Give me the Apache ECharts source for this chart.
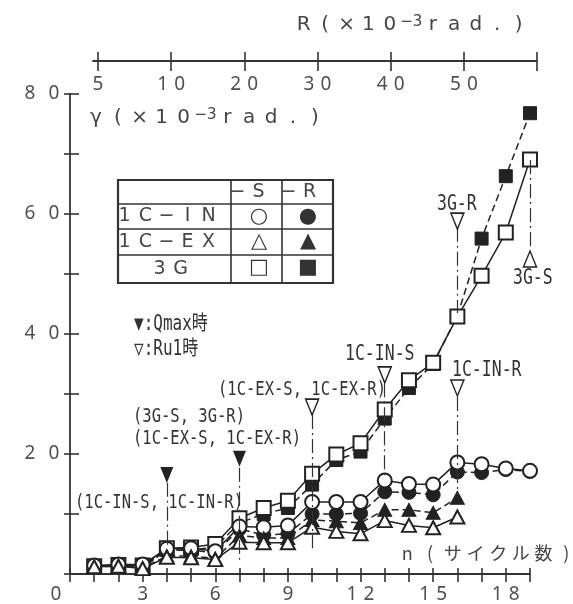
<!DOCTYPE html>
<html><head><meta charset="utf-8">
<script src="https://cdn.jsdelivr.net/npm/echarts@6/dist/echarts.min.js"></script>
<style>html,body{margin:0;padding:0;background:#fff}#c{width:573px;height:604px}</style>
</head><body><div id="c"></div>
<script>
// ---------------- data ----------------
const cycles = [1,2,3,4,5,6,7,8,9,10,11,12,13,14,15,16,17,18,19];
const in_S = [1.4,1.6,1.6,4.2,4.3,3.8,7.9,7.8,8.1,12.0,12.0,12.0,15.6,15.0,14.9,18.6,18.3,17.6,17.2];
const in_R = [1.3,1.5,1.0,4.0,4.0,3.5,7.5,6.5,6.7,10.0,10.0,10.1,13.7,13.6,13.2,17.0,16.9,17.4,17.1];
const ex_S = [1.2,1.3,0.9,2.8,2.7,2.4,5.3,5.2,5.2,7.8,7.1,6.7,8.9,8.1,7.7,9.5];
const ex_R = [1.2,1.3,1.0,3.0,3.0,2.6,6.4,6.0,6.0,9.0,8.8,8.5,10.7,10.7,10.2,12.7];
const g3_S = [1.3,1.5,1.4,4.3,4.4,5.0,9.3,11.0,12.2,16.7,19.9,21.8,27.4,32.3,35.2,42.9,49.7,56.9,69.1];
const g3_R = [1.2,1.4,1.3,4.0,4.0,4.5,8.5,10.0,11.0,14.9,19.0,20.4,25.9,31.0,35.0,43.0,55.9,66.3,76.8];
const bottomTickLabels = [0,3,6,9,12,15,18];
const yTickLabels = [20,40,60,80];
const topTickCycles = [1,4,7,10,13,16,19];
const topTickLabels = ['5','10','20','30','40','50',''];
// annotation markers: cycle, marker value, vertical line from / to (gamma units)
const qmaxMarks = [
  {n:4, v:16.5, from:15.2, to:4.8},
  {n:7, v:19.2, from:17.7, to:2.3}
];
const ru1Marks = [
  {n:10, v:27.8, from:26.5, to:4.3},
  {n:13, v:33.2, from:31.8, to:16.0},
  {n:16, v:31.0, from:29.5, to:13.2},
  {n:16, v:58.8, from:57.7, to:43.5}
];
const ru1UpMarks = [
  {n:19, v:52.5, from:69.0, to:54.0}
];

// ---------------- helpers ----------------
const INK = '#222', AX = '#333', TXT = '#454545';
function cells(chars, style){ return chars.map(c => '{' + style + '|' + c + '}').join(''); }
function digits(v, style){ return cells(String(v).split(''), style); }
function pairs(arr){ return arr.map((v,i) => [cycles[i], v]); }

const chart = echarts.init(document.getElementById('c'), null, {renderer:'canvas'});

const tickFont = {fontFamily:'Noto Sans', fontSize:19, color:'#505050'};

function mkSeries(name, vals, symbol, size, filled, dashed){
  return {
    name, type:'line', data: pairs(vals), xAxisIndex:0, yAxisIndex:0,
    symbol, symbolSize:size, showSymbol:true, showAllSymbol:true,
    lineStyle:{color:INK, width:1.5, type: dashed ? [7,4] : 'solid'},
    itemStyle: filled ? {color:INK, borderColor:INK, borderWidth:1}
                      : {color:'#fff', borderColor:INK, borderWidth:2},
    emphasis:{disabled:true}, animation:false
  };
}

const annotSeries = {
  name:'annot', type:'line', data:[], xAxisIndex:0, yAxisIndex:0, silent:true, animation:false,
  markLine:{
    silent:true, animation:false, symbol:['none','none'], label:{show:false},
    lineStyle:{color:AX, width:1.2, type:[14,4,2,4]},
    emphasis:{disabled:true},
    data: qmaxMarks.concat(ru1Marks, ru1UpMarks).map(m => [{coord:[m.n, m.from]}, {coord:[m.n, m.to]}])
  },
  markPoint:{
    silent:true, animation:false, label:{show:false},
    data: [].concat(
      qmaxMarks.map(m => ({coord:[m.n, m.v], symbol:'triangle', symbolSize:[13,16], symbolRotate:180,
        itemStyle:{color:INK}})),
      ru1Marks.map(m => ({coord:[m.n, m.v], symbol:'triangle', symbolSize:[13,16], symbolRotate:180,
        itemStyle:{color:'#fff', borderColor:INK, borderWidth:1.5}})),
      ru1UpMarks.map(m => ({coord:[m.n, m.v], symbol:'triangle', symbolSize:[13,16], symbolRotate:0,
        itemStyle:{color:'#fff', borderColor:INK, borderWidth:1.5}}))
    )
  }
};

// ---------------- graphic texts / table ----------------
const titleRich = {
  t:{fontFamily:'DejaVu Sans', fontSize:20, fill:TXT, width:21.5, align:'center'},
  g:{fontFamily:'DejaVu Sans', fontSize:20, fill:TXT, width:21.9, align:'center'},
  s:{fontFamily:'DejaVu Sans', fontSize:15, fill:TXT, width:21.5, align:'center', verticalAlign:'top'},
  sg:{fontFamily:'DejaVu Sans', fontSize:15, fill:TXT, width:21.9, align:'center', verticalAlign:'top'},
  n:{fontFamily:'Noto Sans CJK JP', fontSize:18, fill:TXT, width:22.7, align:'center'},
  c:{fontFamily:'DejaVu Sans', fontSize:19, fill:TXT, width:21, align:'center'}
};
function gtext(x, y, text){
  return {type:'text', x, y, silent:true,
    style:{text, rich:titleRich, align:'left', verticalAlign:'middle', fill:TXT}};
}
const monoFam = 'DejaVu Sans Mono, Noto Sans CJK JP';
function mtext(x, y, text, size){
  return {type:'text', x, y, scaleY:1.3, silent:true,
    style:{text, fontFamily:monoFam, fontSize:size, fill:'#333', align:'left', verticalAlign:'middle'}};
}
function sym(x, y, ch){
  return {type:'text', x, y, silent:true,
    style:{text:ch, fontFamily:'DejaVu Sans', fontSize:21, fill:'#333', align:'center', verticalAlign:'middle'}};
}
const tb = {l:118, r:333, t:180, b:283, c1:231, c2:282, rows:[204,229,255]};
const tableEls = [
  {type:'rect', silent:true, shape:{x:tb.l, y:tb.t, width:tb.r-tb.l, height:tb.b-tb.t},
   style:{fill:'none', stroke:AX, lineWidth:2.2}},
  {type:'line', silent:true, shape:{x1:tb.c1, y1:tb.t, x2:tb.c1, y2:tb.b}, style:{stroke:AX, lineWidth:1.6}},
  {type:'line', silent:true, shape:{x1:tb.c2, y1:tb.t, x2:tb.c2, y2:tb.b}, style:{stroke:AX, lineWidth:1.6}}
].concat(tb.rows.map(y => ({type:'line', silent:true, shape:{x1:tb.l, y1:y, x2:tb.r, y2:y}, style:{stroke:AX, lineWidth:1.6}})));

const graphics = [
  gtext(293, 25, cells(['R','(','×','1','0'],'t') + '{s|−3}' + cells(['r','a','d','.',')'],'t')),
  gtext(85, 118, cells(['γ','(','×','1','0'],'g') + '{sg|−3}' + cells(['r','a','d','.',')'],'g')),
  gtext(396, 553, cells(['n','(','サ','イ','ク','ル','数',')'],'n')),
  gtext(114, 216.5, cells(['1','C','−','I','N'],'c')),
  gtext(114, 242, cells(['1','C','−','E','X'],'c')),
  gtext(149, 269, cells(['3','G'],'c')),
  gtext(227, 192, cells(['−','S'],'c')),
  gtext(278, 192, cells(['−','R'],'c')),
  sym(259, 216.5, '○'), sym(308, 216.5, '●'),
  sym(259, 242, '△'), sym(308, 242, '▲'),
  sym(259, 268, '□'), sym(308, 268, '■'),
  mtext(134, 325, '▼:Qmax時', 16),
  mtext(134, 350, '▽:Ru1時', 16),
  mtext(133, 417, '(3G-S, 3G-R)', 15.5),
  mtext(133, 439, '(1C-EX-S, 1C-EX-R)', 15.5),
  mtext(218, 390, '(1C-EX-S, 1C-EX-R)', 15.5),
  mtext(75, 503, '(1C-IN-S, 1C-IN-R)', 15.5),
  mtext(345, 354, '1C-IN-S', 16.5),
  mtext(452, 370, '1C-IN-R', 16.5),
  mtext(437, 204, '3G-R', 16.5),
  mtext(513, 278, '3G-S', 16.5)
].concat(tableEls);

// ---------------- axes ----------------
const axisLine = {show:true, onZero:false, lineStyle:{color:AX, width:1.8}};
const option = {
  backgroundColor:'#fff',
  animation:false,
  grid:[
    {left:70, right:43, top:94, bottom:30, outerBoundsMode:'none', containLabel:false},
    {left:93, right:36, top:61, height:1, outerBoundsMode:'none', containLabel:false}
  ],
  xAxis:[
    {type:'value', gridIndex:0, position:'bottom', min:0, max:19, interval:1,
     axisLine, splitLine:{show:false},
     axisTick:{show:true, inside:false, length:8, lineStyle:{color:AX, width:1.6}},
     axisLabel:{show:true, margin:11, ...tickFont,
       formatter: v => v === 0 ? '{z|0}' : (bottomTickLabels.includes(v) ? digits(v,'d') : ''),
       rich:{d:{...tickFont, width:17, align:'center'}, z:{...tickFont, padding:[0,28,0,0]}}}},
    {type:'value', gridIndex:0, position:'bottom', offset:0, min:0, max:19, interval:1,
     axisLine:{show:false}, splitLine:{show:false}, axisLabel:{show:false},
     axisTick:{show:true, inside:true, length:6, lineStyle:{color:AX, width:1.6}}},
    {type:'value', gridIndex:1, position:'top', min:0.8, max:19,
     axisLine, splitLine:{show:false},
     axisTick:{show:true, inside:false, length:9, customValues:topTickCycles, lineStyle:{color:AX, width:1.6}},
     axisLabel:{show:true, inside:true, margin:14, ...tickFont, customValues:topTickCycles.slice(0,6),
       formatter: v => { const i = topTickCycles.indexOf(v); return i >= 0 ? digits(topTickLabels[i],'d') : ''; },
       rich:{d:{...tickFont, width:17, align:'center'}}}},
    {type:'value', gridIndex:1, position:'top', offset:0, min:0.8, max:19,
     axisLine:{show:false}, splitLine:{show:false}, axisLabel:{show:false},
     axisTick:{show:true, inside:true, length:9, customValues:topTickCycles, lineStyle:{color:AX, width:1.6}}}
  ],
  yAxis:[
    {type:'value', gridIndex:0, position:'left', min:0, max:80, interval:10,
     axisLine, splitLine:{show:false},
     axisTick:{show:true, inside:false, length:6, lineStyle:{color:AX, width:1.6}},
     axisLabel:{show:true, margin:4, ...tickFont,
       formatter: v => yTickLabels.includes(v) ? digits(v,'d') : '',
       rich:{d:{...tickFont, width:24, align:'center'}}}},
    {type:'value', gridIndex:0, position:'left', offset:0, min:0, max:80, interval:10,
     axisLine:{show:false}, splitLine:{show:false}, axisLabel:{show:false},
     axisTick:{show:true, inside:true, length:9, lineStyle:{color:AX, width:1.6}}},
    {type:'value', gridIndex:1, show:false, min:0, max:1}
  ],
  series:[
    mkSeries('3G-R', g3_R, 'rect', 13, true, true),
    mkSeries('3G-S', g3_S, 'rect', 14, false, false),
    mkSeries('1C-IN-R', in_R, 'circle', 14, true, true),
    mkSeries('1C-IN-S', in_S, 'circle', 14, false, false),
    mkSeries('1C-EX-R', ex_R, 'triangle', [14,13], true, true),
    mkSeries('1C-EX-S', ex_S, 'triangle', [14,13], false, false),
    annotSeries
  ],
  graphic: graphics
};
chart.setOption(option);
</script>
</body></html>
